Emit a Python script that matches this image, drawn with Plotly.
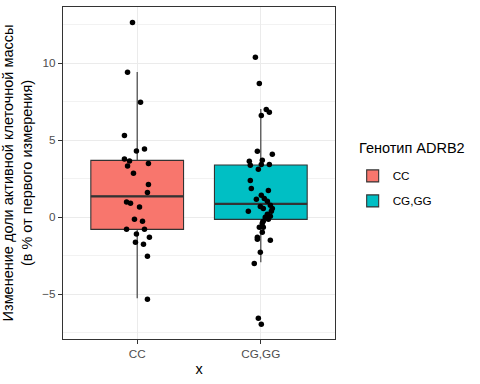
import plotly.graph_objects as go

# ---- data ----
groups = ["CC", "CG,GG"]
group_pos = [1, 2]
colors = ["#F8766D", "#00BFC4"]

cc_values = [12.64, 9.40, 7.45, 5.30, 4.42, 4.29, 3.77, 3.64, 3.48, 3.31, 2.84,
             2.12, 1.60, 0.97, 0.89, 0.65, -0.15, -0.28, -0.80, -0.80, -1.10,
             -1.32, -1.64, -1.77, -2.55, -5.34]
cc_jitter = [-0.038, -0.078, 0.027, -0.103, 0.059, -0.006, -0.103, -0.062, 0.091,
             -0.078, -0.030, 0.091, 0.083, -0.086, -0.054, 0.019, -0.022, 0.043,
             -0.086, 0.059, -0.006, 0.099, -0.014, 0.051, 0.083, 0.083]

cg_values = [10.37, 8.68, 6.99, 6.80, 6.60, 4.27, 4.07, 3.68, 3.62, 3.42, 3.42,
             3.36, 3.10, 2.38, 1.86, 1.73, 1.41, 1.21, 1.15, 1.02, 0.76, 0.69,
             0.56, 0.56, 0.37, 0.37, 0.18, 0.05, -0.02, -0.15, -0.28, -0.41,
             -0.67, -0.67, -0.99, -1.32, -1.45, -1.51, -2.29, -3.01, -6.58, -6.97]
cg_jitter = [-0.044, -0.012, 0.044, 0.069, 0.004, -0.028, 0.093, 0.012, -0.093,
             0.004, 0.069, -0.085, -0.020, -0.085, -0.077, 0.061, 0.004, 0.028,
             -0.036, 0.053, 0.077, -0.004, 0.020, 0.093, -0.101, 0.085, 0.053,
             0.077, 0.036, 0.061, 0.020, 0.012, -0.012, 0.020, 0.012, -0.028,
             -0.028, 0.077, -0.004, -0.053, -0.020, 0.004]

# box statistics
q1 = [-0.80, -0.15]
median = [1.34, 0.86]
q3 = [3.68, 3.38]
lower_fence = [-5.28, -2.94]
upper_fence = [9.42, 7.01]

legend_title = "Генотип ADRB2"
box_width = 0.75
values = [cc_values, cg_values]
jitters = [cc_jitter, cg_jitter]

fig = go.Figure()

for i, g in enumerate(groups):
    fig.add_trace(go.Box(
        x=[group_pos[i]], q1=[q1[i]], median=[median[i]], q3=[q3[i]],
        lowerfence=[lower_fence[i]], upperfence=[upper_fence[i]],
        name=g, legendgroup=g, width=box_width,
        fillcolor=colors[i], line=dict(color="#333333", width=1.1),
        whiskerwidth=0, boxpoints=False, hoverinfo="skip",
    ))

for i, g in enumerate(groups):
    fig.add_trace(go.Scatter(
        x=[group_pos[i] - box_width / 2, group_pos[i] + box_width / 2],
        y=[median[i], median[i]], mode="lines",
        line=dict(color="#333333", width=2.2), showlegend=False,
        hoverinfo="skip",
    ))

for i, g in enumerate(groups):
    fig.add_trace(go.Scatter(
        x=[group_pos[i] + j for j in jitters[i]], y=values[i],
        mode="markers", marker=dict(color="black", size=5.5),
        showlegend=False, hoverinfo="skip",
    ))

fig.add_annotation(
    text=legend_title, xref="paper", yref="paper", x=1.081, y=0.575,
    xanchor="left", yanchor="middle", showarrow=False,
    font=dict(size=14.5, color="black"),
)

fig.update_layout(
    width=480, height=384,
    margin=dict(l=63, r=145, t=7, b=45),
    paper_bgcolor="white", plot_bgcolor="white",
    font=dict(family="Liberation Sans, Arial, sans-serif", color="black"),
    showlegend=True,
    legend=dict(
        font=dict(size=11.7, color="black"),
        x=1.065, y=0.535, xanchor="left", yanchor="top",
        bgcolor="rgba(0,0,0,0)", tracegroupgap=6,
    ),
    xaxis=dict(
        range=[0.4, 2.6], tickmode="array", tickvals=group_pos, ticktext=groups,
        showgrid=True, gridcolor="#EBEBEB", gridwidth=1,
        zeroline=False, showline=True, mirror=True,
        linecolor="#333333", linewidth=1.2,
        ticks="outside", ticklen=4, tickcolor="#333333",
        tickfont=dict(size=11.7, color="#4D4D4D"),
        title=dict(text="x", font=dict(size=14.5, color="black"), standoff=4),
        automargin=False,
    ),
    yaxis=dict(
        range=[-7.92, 13.64], tickmode="array", tickvals=[-5, 0, 5, 10],
        showgrid=True, gridcolor="#EBEBEB", gridwidth=1,
        minor=dict(tickmode="array", tickvals=[-7.5, -2.5, 2.5, 7.5, 12.5],
                   showgrid=True, gridcolor="#F2F2F2", gridwidth=0.6),
        zeroline=False, showline=True, mirror=True,
        linecolor="#333333", linewidth=1.2,
        ticks="outside", ticklen=4, tickcolor="#333333",
        tickfont=dict(size=11.7, color="#4D4D4D"),
        title=dict(text="Изменение доли активной клеточной массы<br>(в % от первого измерения)",
                   font=dict(size=14.5, color="black"), standoff=6),
        automargin=False,
    ),
)

fig.write_html("out.html", config={"displayModeBar": False},
               post_script="document.body.style.margin='0';")
